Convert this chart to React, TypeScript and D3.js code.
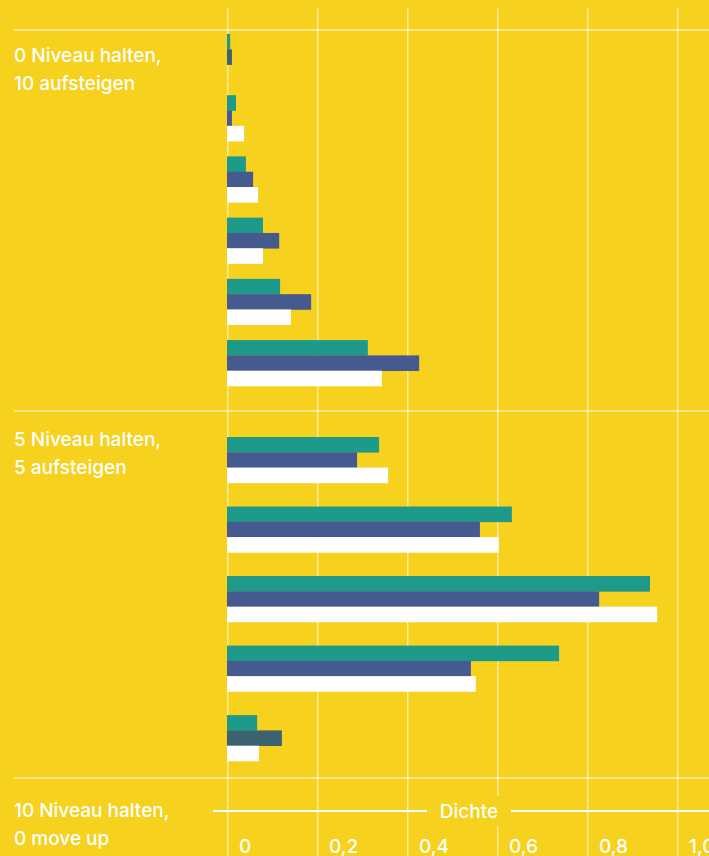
import React from 'react';
import * as d3 from 'd3';

// section labels (two lines each)
const sectionLine1 = ['0 Niveau halten,', '5 Niveau halten,', '10 Niveau halten,'];
const sectionLine2 = ['10 aufsteigen', '5 aufsteigen', '0 move up'];

// density per bin, one list per section (top to bottom)
const tealValues = [
  [0.007, 0.02, 0.042, 0.08, 0.118, 0.313],
  [0.338, 0.633, 0.94, 0.738, 0.067],
  [],
];
const blueValues = [
  [0.011, 0.011, 0.058, 0.116, 0.187, 0.427],
  [0.289, 0.562, 0.827, 0.542, 0.122],
  [],
];
const whiteValues = [
  [0, 0.038, 0.069, 0.08, 0.142, 0.344],
  [0.358, 0.604, 0.956, 0.553, 0.071],
  [],
];
// bins where the middle bar is drawn in the darker slate tone
const slateBins = [[0], [4], []];

const xTicks = [0, 0.2, 0.4, 0.6, 0.8, 1.0];
const axisTitle = 'Dichte';

const W = 709;
const H = 856;
const BG = '#F6D11E';
const TEAL = '#1D9A8A';
const BLUE = '#455A8E';
const SLATE = '#3C6470';
const FONT = 'Inter, "Noto Sans", sans-serif';

// section layout: separator line, label baseline and band range for the bins
const sectionLayout = [
  { line: 30, label: 62, y0: 34, y1: 386, pad: 0.25 },
  { line: 411, label: 446, y0: 437, y1: 761, pad: 0.34 },
  { line: 778, label: 817, y0: 800, y1: 1100, pad: 0.3 },
];

const App: React.FC = () => {
  const x = d3.scaleLinear().domain([0, 1]).range([227, 677]);

  const bars: React.ReactNode[] = [];
  sectionLayout.forEach((sec, s) => {
    const n = tealValues[s].length;
    if (!n) return;
    const y = d3
      .scaleBand<number>()
      .domain(d3.range(n))
      .range([sec.y0, sec.y1])
      .paddingInner(sec.pad);
    const bh = y.bandwidth() / 3;
    const series = [tealValues[s], blueValues[s], whiteValues[s]];
    series.forEach((vals, k) => {
      vals.forEach((v, i) => {
        if (v <= 0) return;
        let fill = k === 0 ? TEAL : k === 1 ? BLUE : '#FFFFFF';
        if (k === 1 && slateBins[s].includes(i)) fill = SLATE;
        bars.push(
          <rect
            key={`b-${s}-${k}-${i}`}
            x={x(0)}
            y={(y(i) as number) + k * bh}
            width={x(v) - x(0)}
            height={bh + 0.3}
            fill={fill}
          />
        );
      });
    });
  });

  const axisY = 811;
  const titleCx = 469;

  return (
    <svg
      width={W}
      height={H}
      style={{ position: 'absolute', left: 0, top: 0, display: 'block' }}
    >
      <rect width={W} height={H} fill={BG} />

      {/* vertical grid */}
      {xTicks.map((t) => (
        <line
          key={`g-${t}`}
          x1={x(t) + 0.75}
          x2={x(t) + 0.75}
          y1={8}
          y2={H}
          stroke="#fff"
          strokeOpacity={0.55}
          strokeWidth={1.5}
        />
      ))}

      {/* section separators and labels */}
      {sectionLayout.map((sec, s) => (
        <g key={`s-${s}`}>
          <line
            x1={14}
            x2={W}
            y1={sec.line}
            y2={sec.line}
            stroke="#fff"
            strokeOpacity={0.65}
            strokeWidth={1.5}
          />
          <text x={14} y={sec.label} fill="#fff" fontFamily={FONT} fontWeight={500} fontSize={19}>
            {sectionLine1[s]}
          </text>
          <text x={14} y={sec.label + 28} fill="#fff" fontFamily={FONT} fontWeight={500} fontSize={19}>
            {sectionLine2[s]}
          </text>
        </g>
      ))}

      {bars}

      {/* axis title line */}
      <line x1={213} x2={W} y1={axisY} y2={axisY} stroke="#fff" strokeWidth={2} />
      <rect x={427} y={axisY - 15} width={84} height={30} fill={BG} />
      <text
        x={titleCx}
        y={axisY + 7}
        textAnchor="middle"
        fill="#fff"
        fontFamily={FONT}
        fontWeight={500}
        fontSize={19}
      >
        {axisTitle}
      </text>

      {/* tick labels */}
      {xTicks.map((t) => (
        <text
          key={`t-${t}`}
          x={x(t) + 12}
          y={853}
          fill="#fff"
          fontFamily={FONT}
          fontWeight={500}
          fontSize={19}
        >
          {t === 0 ? '0' : d3.format('.1f')(t).replace('.', ',')}
        </text>
      ))}
    </svg>
  );
};

export default App;
